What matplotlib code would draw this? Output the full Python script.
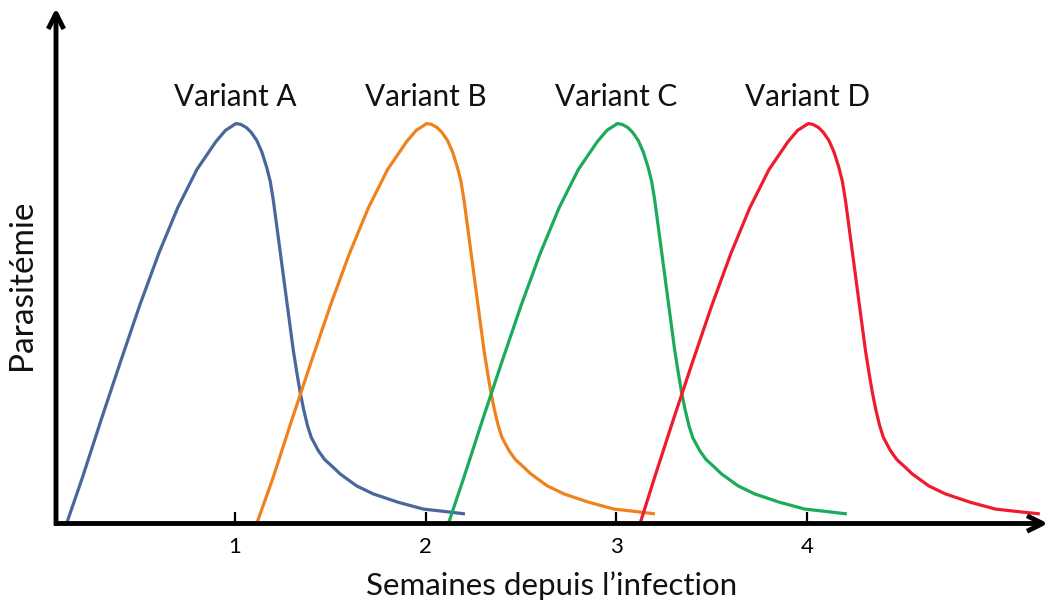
import matplotlib.pyplot as plt

# Parasitemia curves (peak = 1), one week list per variant
weeks_a = [0.117, 0.2, 0.3, 0.4, 0.5, 0.6, 0.7, 0.8, 0.9, 0.95, 1.005,
           1.03, 1.06, 1.085, 1.114, 1.14, 1.166, 1.185, 1.201, 1.236, 1.271, 1.306, 1.325,
           1.341, 1.36, 1.38, 1.40, 1.437, 1.47, 1.516, 1.551, 1.638, 1.725, 1.856, 1.988,
           2.101, 2.206]
weeks_b = [1.114, 1.2, 1.3, 1.4, 1.5, 1.6, 1.7, 1.8, 1.9, 1.95, 2.005,
           2.03, 2.06, 2.085, 2.114, 2.14, 2.166, 2.185, 2.201, 2.236, 2.271, 2.306, 2.325,
           2.341, 2.36, 2.38, 2.40, 2.437, 2.47, 2.516, 2.551, 2.638, 2.725, 2.856, 2.988,
           3.101, 3.202]
weeks_c = [2.119, 2.2, 2.3, 2.4, 2.5, 2.6, 2.7, 2.8, 2.9, 2.95, 3.005,
           3.03, 3.06, 3.085, 3.114, 3.14, 3.166, 3.185, 3.201, 3.236, 3.271, 3.306, 3.325,
           3.341, 3.36, 3.38, 3.40, 3.437, 3.47, 3.516, 3.551, 3.638, 3.725, 3.856, 3.988,
           4.101, 4.208]
weeks_d = [3.124, 3.2, 3.3, 3.4, 3.5, 3.6, 3.7, 3.8, 3.9, 3.95, 4.006,
           4.03, 4.06, 4.085, 4.114, 4.14, 4.166, 4.185, 4.201, 4.236, 4.271, 4.306, 4.325,
           4.341, 4.36, 4.38, 4.40, 4.437, 4.47, 4.516, 4.551, 4.638, 4.725, 4.856, 4.988,
           5.101, 5.22]
parasitemia = [0.0, 0.115, 0.262, 0.405, 0.545, 0.675, 0.79, 0.885, 0.955, 0.983, 1.0,
               0.998, 0.99, 0.978, 0.958, 0.93, 0.891, 0.855, 0.808, 0.683, 0.557, 0.432, 0.375,
               0.33, 0.285, 0.245, 0.215, 0.182, 0.16, 0.14, 0.124, 0.094, 0.074, 0.053, 0.036,
               0.030, 0.024]

variants = ['Variant A', 'Variant B', 'Variant C', 'Variant D']
label_x = [1.0, 2.0, 3.0, 4.0]
colors = ['#4a679b', '#f0821e', '#1bab5a', '#ee1c2e']
tick_vals = [1, 2, 3, 4]

plt.rcParams['font.family'] = ['Lato', 'DejaVu Sans']

fig = plt.figure(figsize=(10.51, 6.05), dpi=100)
ax = fig.add_axes([56 / 1051, (605 - 523.5) / 605, (1048 - 56) / 1051, (523.5 - 8) / 605])

for w, c in zip([weeks_a, weeks_b, weeks_c, weeks_d], colors):
    ax.plot(w, parasitemia, color=c, lw=2.3, solid_joinstyle='round', solid_capstyle='butt')

for name, x in zip(variants, label_x):
    ax.text(x, 1.066, name, ha='center', va='center', fontsize=21.4, color='#111111')

ax.set_xlim(0.0614, 5.263)
ax.set_ylim(0, 1.289)

for s in ax.spines.values():
    s.set_visible(False)

# axes drawn as arrows
arrow = dict(arrowstyle='->', lw=3.5, color='black', mutation_scale=28,
             shrinkA=0, shrinkB=0, capstyle='butt')
ax.annotate('', xy=(1, 0), xytext=(-0.002, 0), xycoords='axes fraction', arrowprops=arrow)
ax.annotate('', xy=(0, 1), xytext=(0, -0.004), xycoords='axes fraction', arrowprops=arrow)

ax.set_xticks(tick_vals)
ax.set_xticklabels([str(t) for t in tick_vals])
ax.set_yticks([])
ax.tick_params(axis='x', direction='in', length=9, width=1.6, colors='black',
               labelsize=16, pad=10)

ax.set_xlabel('Semaines depuis l\u2019infection', fontsize=22.5, labelpad=10, color='#111111')
ax.set_ylabel('Parasitémie', fontsize=24, color='#111111')
ax.yaxis.set_label_coords(-0.019, 0.463)

fig.savefig('out.png', dpi=100)
